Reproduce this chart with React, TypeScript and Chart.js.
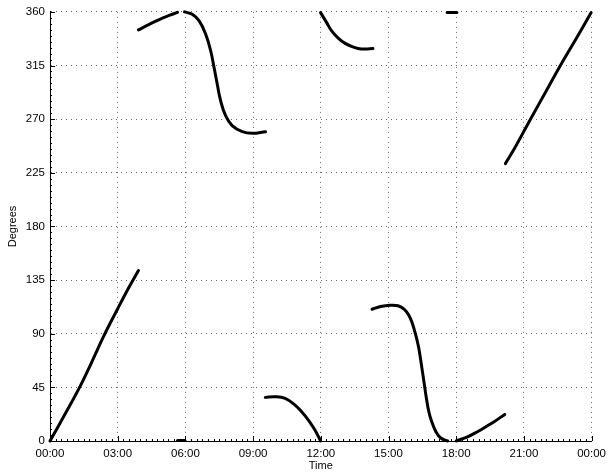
import { useEffect, useRef } from "react";
import { Chart, registerables } from "chart.js";

Chart.register(...registerables);

// x values are hours of the day, y values are degrees
const tickLabels = ["00:00", "03:00", "06:00", "09:00", "12:00", "15:00", "18:00", "21:00", "00:00"];

const seg1Time = [0, 0.65, 1.31, 1.82, 2.38, 3.0, 3.5, 3.92];
const seg1Deg = [0, 22, 45, 65, 88, 111, 129, 143];

const seg2Time = [3.92, 4.4, 4.84, 5.28, 5.65];
const seg2Deg = [344.9, 349.6, 353.6, 357, 359.6];

const seg3Time = [5.65, 5.98];
const seg3Deg = [0.5, 0.5];

const seg4Time = [5.96, 6.3, 6.61, 6.9, 7.12, 7.27, 7.41, 7.56, 7.78, 8.07, 8.52, 8.96, 9.55];
const seg4Deg = [360, 358, 352.5, 341.3, 327.4, 313.4, 299.5, 285.5, 272.9, 264.6, 259.5, 258.1, 259.5];

const seg5Time = [9.54, 9.98, 10.42, 10.86, 11.15, 11.45, 11.74, 11.99];
const seg5Deg = [36.6, 37.1, 35.7, 30.1, 24.5, 17.6, 9.2, 0];

const seg6Time = [11.99, 12.26, 12.48, 12.77, 13.06, 13.36, 13.65, 13.95, 14.31];
const seg6Deg = [359.4, 351, 344, 338, 333.8, 331, 329.3, 328.8, 329.3];

const seg7Time = [14.27, 14.65, 15.07, 15.42, 15.7, 15.9, 16.05, 16.2, 16.33, 16.45, 16.56, 16.67, 16.77, 16.89, 17.1, 17.33, 17.62];
const seg7Deg = [110.5, 112.8, 113.9, 113.5, 110.5, 105.5, 99, 89.5, 79, 65, 51, 37, 26, 17.6, 7.8, 2.3, 0];

const seg8Time = [17.6, 18.03];
const seg8Deg = [359.5, 359.5];

const seg9Time = [18.0, 18.5, 18.94, 19.3, 19.68, 20.15];
const seg9Deg = [0, 3.5, 7.8, 11.8, 16.2, 22.3];

const seg10Time = [20.18, 20.6, 21.29, 22.0, 22.61, 23.3, 23.98];
const seg10Deg = [232.7, 246, 270, 294, 314.8, 337, 359.4];

const segments: [number[], number[]][] = [
  [seg1Time, seg1Deg],
  [seg2Time, seg2Deg],
  [seg3Time, seg3Deg],
  [seg4Time, seg4Deg],
  [seg5Time, seg5Deg],
  [seg6Time, seg6Deg],
  [seg7Time, seg7Deg],
  [seg8Time, seg8Deg],
  [seg9Time, seg9Deg],
  [seg10Time, seg10Deg],
];

const FONT = "'Liberation Sans', Arial, Helvetica, sans-serif";

const inwardTicks = {
  id: "inwardTicks",
  afterDatasetsDraw(chart: any) {
    const { ctx, chartArea, scales } = chart;
    const xs = scales.x;
    const ys = scales.y;
    ctx.save();
    ctx.strokeStyle = "#000";
    ctx.lineWidth = 1;
    ctx.beginPath();
    for (let h = 0; h <= 24.0001; h += 0.25) {
      const px = Math.round(xs.getPixelForValue(h)) + 0.5;
      const major = Math.abs(h / 3 - Math.round(h / 3)) < 1e-6;
      const len = major ? 5 : 2;
      ctx.moveTo(px, chartArea.bottom);
      ctx.lineTo(px, chartArea.bottom - len);
    }
    for (let d = 0; d <= 360; d += 5) {
      const py = Math.round(ys.getPixelForValue(d)) + 0.5;
      const len = d % 45 === 0 ? 5 : 2;
      ctx.moveTo(chartArea.left, py);
      ctx.lineTo(chartArea.left + len, py);
    }
    ctx.stroke();
    ctx.restore();
  },
};

export default function App() {
  const ref = useRef<HTMLCanvasElement | null>(null);

  useEffect(() => {
    document.body.style.margin = "0";
    const canvas = ref.current;
    if (!canvas) return;
    const datasets = segments.map(([t, d]) => ({
      data: t.map((h, i) => ({ x: h, y: d[i] })),
      borderColor: "#000",
      backgroundColor: "#000",
      borderWidth: 3,
      borderCapStyle: "round" as const,
      borderJoinStyle: "round" as const,
      pointRadius: 0,
      tension: 0.4,
      fill: false,
      clip: false as const,
    }));
    const chart = new Chart(canvas, {
      type: "line",
      data: { datasets },
      options: {
        animation: false,
        responsive: false,
        devicePixelRatio: 1,
        layout: { padding: { top: 11, right: 17, left: 0, bottom: 0 } },
        plugins: { legend: { display: false }, tooltip: { enabled: false } },
        scales: {
          x: {
            type: "linear",
            min: 0,
            max: 24,
            afterFit: (s: any) => {
              s.height = 33;
            },
            ticks: {
              stepSize: 3,
              autoSkip: false,
              maxRotation: 0,
              padding: 6,
              color: "#000",
              font: { family: FONT, size: 11.5 },
              callback: (v: any) => tickLabels[Math.round(Number(v) / 3)],
            },
            grid: { color: "rgba(0,0,0,0.6)", drawTicks: false, lineWidth: 1 },
            border: { display: true, color: "#000", width: 1, dash: [1, 4] },
            title: {
              display: true,
              text: "Time",
              color: "#000",
              font: { family: FONT, size: 11 },
              padding: { top: 0, bottom: 1 },
            },
          },
          y: {
            type: "linear",
            min: 0,
            max: 360,
            afterFit: (s: any) => {
              s.width = 50;
            },
            ticks: {
              stepSize: 45,
              autoSkip: false,
              padding: 5,
              color: "#000",
              font: { family: FONT, size: 11.5 },
            },
            grid: { color: "rgba(0,0,0,0.6)", drawTicks: false, lineWidth: 1 },
            border: { display: true, color: "#000", width: 1, dash: [1, 4] },
            title: {
              display: true,
              text: "Degrees",
              color: "#000",
              font: { family: FONT, size: 11 },
              padding: { top: 6, bottom: 0 },
            },
          },
        },
      },
      plugins: [inwardTicks],
    });
    return () => chart.destroy();
  }, []);

  return (
    <div style={{ width: 612, height: 474 }}>
      <canvas ref={ref} width={612} height={474} style={{ display: "block" }} />
    </div>
  );
}
